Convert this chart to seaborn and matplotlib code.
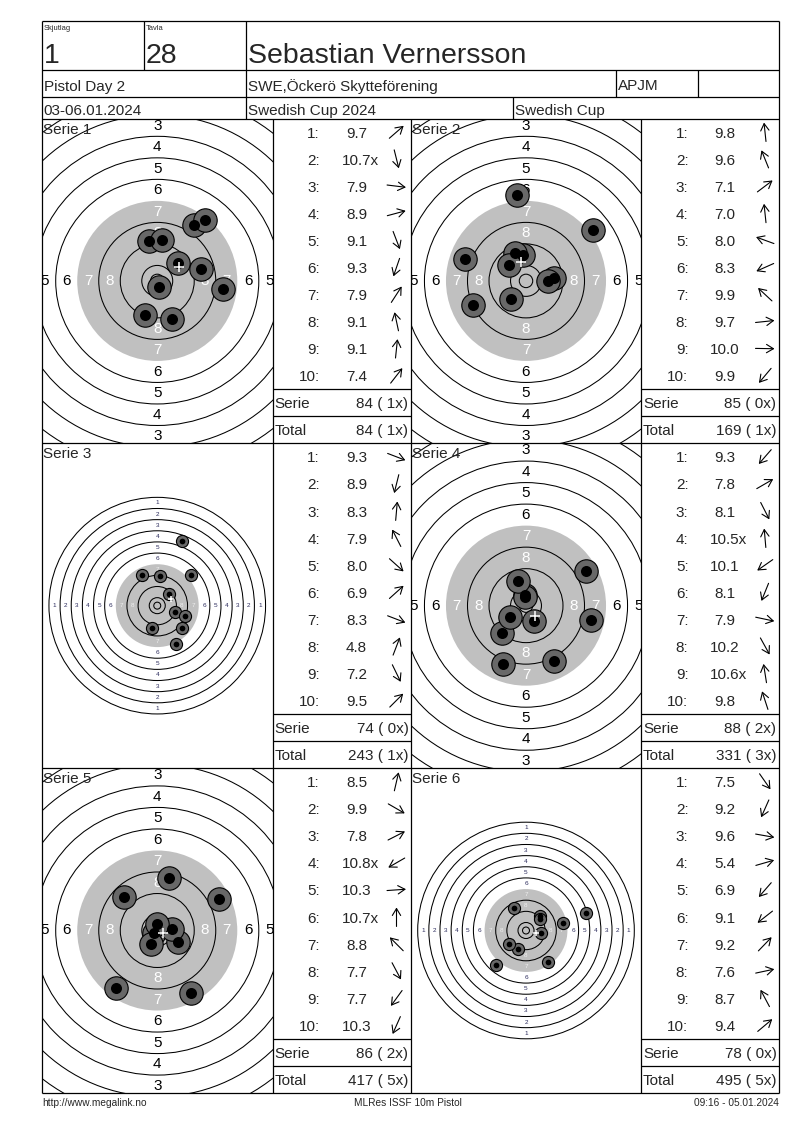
#! /usr/bin/env python3

# libraries
import numpy as np
import matplotlib
matplotlib.use("Agg")
import matplotlib.pyplot as plt
from matplotlib.patches import Circle
import seaborn as sns

sns.set_theme(style="white")
plt.rcParams["font.family"] = ["Liberation Sans", "DejaVu Sans"]

# header texts
relay = "1"
lane = "28"
shooter = "Sebastian Vernersson"
event = "Pistol Day 2"
club = "SWE,Öckerö Skytteförening"
klass = "APJM"
dates = "03-06.01.2024"
competition = "Swedish Cup 2024"
cup = "Swedish Cup"
footer = ["http://www.megalink.no", "MLRes ISSF 10m Pistol", "09:16 - 05.01.2024"]

# shots: score and direction from the centre (deg, ccw from 3 o'clock)
s1_scores = ["9.7", "10.7x", "7.9", "8.9", "9.1", "9.3", "7.9", "9.1", "9.1", "7.4"]
s1_angles = [41, -76, -7, 15, -69, -109, 57, 102, 84, 52]
s2_scores = ["9.8", "9.6", "7.1", "7.0", "8.0", "8.3", "9.9", "9.7", "10.0", "9.9"]
s2_angles = [96, 112, 37, 96, 160, -156, 137, 6, -1, -130]
s3_scores = ["9.3", "8.9", "8.3", "7.9", "8.0", "6.9", "8.3", "4.8", "7.2", "9.5"]
s3_angles = [-21, -104, 85, 117, -42, 42, -21, 69, -64, 45]
s4_scores = ["9.3", "7.8", "8.1", "10.5x", "10.1", "8.1", "7.9", "10.2", "10.6x", "9.8"]
s4_angles = [-131, 30, -63, 95, -145, -112, -12, -61, 99, 108]
s5_scores = ["8.5", "9.9", "7.8", "10.8x", "10.3", "10.7x", "8.8", "7.7", "7.7", "10.3"]
s5_angles = [77, -30, 27, -150, 4, 90, 135, -62, -126, -114]
s6_scores = ["7.5", "9.2", "9.6", "5.4", "6.9", "9.1", "9.2", "7.6", "8.7", "9.4"]
s6_angles = [-55, -114, -10, 16, -131, -142, 46, 12, 118, 40]

serie_sum = [84, 85, 74, 88, 86, 78]
serie_x = [1, 0, 0, 2, 2, 0]
total_sum = [84, 169, 243, 331, 417, 495]
total_x = [1, 1, 1, 3, 5, 5]

all_scores = [s1_scores, s2_scores, s3_scores, s4_scores, s5_scores, s6_scores]
all_angles = [s1_angles, s2_angles, s3_angles, s4_angles, s5_angles, s6_angles]

# page layout (pixels, y down)
W, H = 800, 1130
COLS = [42, 272.5, 411, 641, 779]
ROWS = [118.5, 443.3, 768, 1093]
HEAD = [21, 70, 96.5, 118.5]
ZOOM = [2.69, 2.69, 1.393, 2.69, 2.69, 1.393]  # px per mm for each target view

# ISSF 10m pistol target, ring radii in mm
RING = {r: 5.75 + 8 * (10 - r) for r in range(1, 11)}
INNER_TEN = 2.5
SHOT_R = 4.35
SHOT_CORE = 2.05

fig = plt.figure(figsize=(W / 100, H / 100), dpi=100)
bg = fig.add_axes([0, 0, 1, 1])
bg.set_xlim(0, W)
bg.set_ylim(H, 0)
bg.axis("off")
bg.set_zorder(10)


def line(x0, y0, x1, y1):
    bg.plot([x0, x1], [y0, y1], color="black", lw=0.9, solid_capstyle="butt")


# frame and header grid
line(COLS[0], HEAD[0], COLS[-1], HEAD[0])
for y in HEAD[1:] + ROWS[1:]:
    line(COLS[0], y, COLS[-1], y)
line(COLS[0], HEAD[0], COLS[0], ROWS[-1])
line(COLS[-1], HEAD[0], COLS[-1], ROWS[-1])
for x in [144, 246]:
    line(x, HEAD[0], x, HEAD[1])
for x in [246, 616, 698]:
    line(x, HEAD[1], x, HEAD[2])
for x in [246, 513]:
    line(x, HEAD[2], x, HEAD[3])
for x in COLS[1:-1]:
    line(x, ROWS[0], x, ROWS[-1])

bg.text(44, 29.5, "Skjutlag", fontsize=5.4, va="baseline")
bg.text(146, 29.5, "Tavla", fontsize=5.4, va="baseline")
bg.text(44, 63.3, relay, fontsize=20.5, va="baseline")
bg.text(146, 63.3, lane, fontsize=20.5, va="baseline")
bg.text(248, 63.3, shooter, fontsize=20.5, va="baseline")
bg.text(43.5, 90.5, event, fontsize=11, va="baseline")
bg.text(248, 90.5, club, fontsize=11, va="baseline")
bg.text(618, 90.5, klass, fontsize=11, va="baseline")
bg.text(43.5, 115, dates, fontsize=11, va="baseline")
bg.text(248, 115, competition, fontsize=11, va="baseline")
bg.text(515, 115, cup, fontsize=11, va="baseline")

bg.text(42, 1105.5, footer[0], fontsize=7.3, va="baseline", ha="left")
bg.text(408, 1105.5, footer[1], fontsize=7.3, va="baseline", ha="center")
bg.text(779, 1105.5, footer[2], fontsize=7.3, va="baseline", ha="right")

EM = 11 / 72 * 100  # table font em in px

for i in range(6):
    r, c = divmod(i, 2)
    tx0, tx1 = COLS[2 * c], COLS[2 * c + 1]
    qx0, qx1 = COLS[2 * c + 1], COLS[2 * c + 2]
    y0, y1 = ROWS[r], ROWS[r + 1]
    k = ZOOM[i]
    big = k > 2
    hw = (tx1 - tx0) / 2 / k
    hh = (y1 - y0) / 2 / k

    # target
    ax = fig.add_axes([tx0 / W, 1 - y1 / H, (tx1 - tx0) / W, (y1 - y0) / H])
    ax.axis("off")
    ax.add_patch(Circle((0, 0), RING[7], fc="#c0c0c0", ec="none", zorder=1))
    for ring in [1, 2, 3, 4, 5, 6, 8, 9, 10]:
        ax.add_patch(Circle((0, 0), RING[ring], fill=False, ec="black",
                            lw=0.75, zorder=2))
    ax.add_patch(Circle((0, 0), INNER_TEN, fill=False, ec="black", lw=0.75, zorder=2))
    for ring in range(1, 9):
        rad = RING[ring] - 4
        if ring >= 7:
            col = "white" if big else "#eeeeee"
        else:
            col = "black" if big else "#2a2a5c"
        for dx, dy in [(0, 1), (0, -1), (1, 0), (-1, 0)]:
            if abs(dx * rad) > hw or abs(dy * rad) > hh:
                continue  # outside this view
            ax.text(dx * rad, dy * rad, str(ring), color=col,
                    fontsize=11 if big else 4.6, ha="center", va="center",
                    clip_on=True, zorder=3)

    vals = np.array([float(s.rstrip("x")) for s in all_scores[i]])
    dist = (11 - vals) * 8.0
    ang = np.deg2rad(all_angles[i])
    xs = dist * np.cos(ang)
    ys = dist * np.sin(ang)

    pt = k * 72 / 100  # points per mm
    sns.scatterplot(x=xs, y=ys, ax=ax, s=(2 * SHOT_R * pt) ** 2, color="#686868",
                    edgecolor="black", linewidth=0.8, legend=False, zorder=5)
    sns.scatterplot(x=xs, y=ys, ax=ax, s=(2 * SHOT_CORE * pt) ** 2, color="black",
                    edgecolor="black", linewidth=0, legend=False, zorder=6)
    ax.plot(xs.mean(), ys.mean(), marker="+", color="white",
            ms=7.5 if big else 4.5, mew=1.1, zorder=7)

    ax.set_xlim(-hw, hw)
    ax.set_ylim(-hh, hh)
    ax.set_xlabel("")
    ax.set_ylabel("")

    bg.text(tx0 + 1, y0 + 15, f"Serie {i + 1}", fontsize=11, va="baseline")

    # score table
    rowh = (y1 - y0) / 12
    line(qx0, y0 + 10 * rowh, qx1, y0 + 10 * rowh)
    line(qx0, y0 + 11 * rowh, qx1, y0 + 11 * rowh)
    for j, s in enumerate(all_scores[i]):
        yc = y0 + (j + 0.5) * rowh
        base = yc + 0.365 * EM
        bg.text(qx0 + 47.5, base, f"{j + 1}:", fontsize=11, ha="right", va="baseline")
        num = s.rstrip("x")
        width = (len(num) - 1) * 0.556 * EM + 0.278 * EM
        bg.text(qx0 + 84 - width / 2, base, s, fontsize=11, ha="left", va="baseline")
        a = ang[j]
        L = 19
        cx, cy = qx0 + 124, yc
        bg.annotate("", xy=(cx + L / 2 * np.cos(a), cy - L / 2 * np.sin(a)),
                    xytext=(cx - L / 2 * np.cos(a), cy + L / 2 * np.sin(a)),
                    arrowprops=dict(arrowstyle="->,head_length=0.5,head_width=0.3",
                                    lw=0.8, color="black", shrinkA=0, shrinkB=0,
                                    mutation_scale=10))
    for j, (label, total, nx) in enumerate([("Serie", serie_sum[i], serie_x[i]),
                                             ("Total", total_sum[i], total_x[i])]):
        base = y0 + (10 + j + 0.5) * rowh + 0.365 * EM
        bg.text(qx0 + 2, base, label, fontsize=11, ha="left", va="baseline")
        bg.text(qx1 - 2.5, base, f"{total} ( {nx}x)", fontsize=11, ha="right",
                va="baseline")

plt.savefig("out.png", dpi=100)
